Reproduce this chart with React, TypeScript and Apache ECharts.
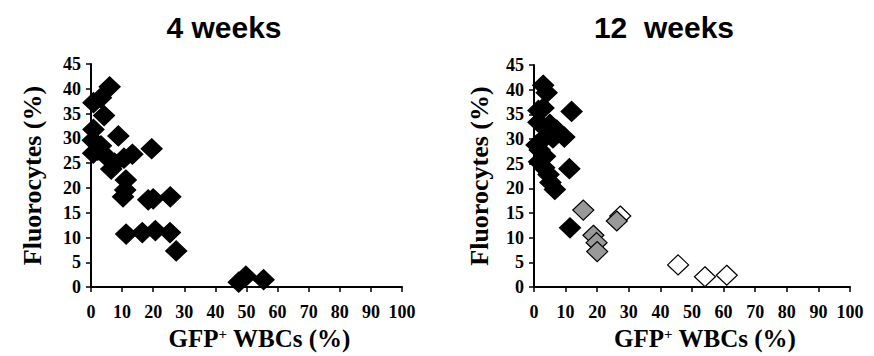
import React, { useEffect, useRef } from "react";
import * as echarts from "echarts";

// 4 weeks panel: [GFP+ WBCs %, Fluorocytes %]
const week4Points: number[][] = [
  [6.0, 40.4], [0.8, 37.2], [3.2, 38.2], [4.2, 34.6], [0.8, 31.8], [8.8, 30.5],
  [0.6, 29.6], [3.2, 28.5], [19.5, 27.9], [0.7, 27.0], [4.5, 26.6], [2.2, 27.6],
  [13.3, 26.8], [10.6, 26.0], [7.6, 25.0], [6.5, 23.8], [11.2, 21.6], [11.0, 19.6],
  [10.3, 18.2], [18.4, 17.6], [20.0, 17.8], [25.5, 18.2], [11.3, 10.7], [16.5, 11.0],
  [20.7, 11.4], [25.4, 11.0], [27.4, 7.3], [47.5, 1.0], [49.8, 2.2], [55.5, 1.5],
];

// 12 weeks panel, three groups (black, gray, white)
const week12Black: number[][] = [
  [2.9, 40.9], [4.0, 39.4], [1.4, 35.8], [3.0, 36.3], [11.9, 35.6], [1.4, 33.4],
  [5.0, 33.0], [7.2, 31.8], [9.6, 30.4], [0.8, 28.8], [2.9, 30.0], [6.0, 30.2],
  [1.8, 27.8], [3.5, 26.5], [1.6, 25.4], [11.2, 24.0], [3.2, 24.2], [4.6, 22.8],
  [5.2, 21.2], [6.6, 19.8], [11.4, 12.0],
];
const week12Gray: number[][] = [
  [15.6, 15.6], [26.2, 13.4], [18.8, 10.5], [19.8, 9.0], [20.0, 7.2],
];
const week12White: number[][] = [
  [27.3, 14.4], [45.6, 4.5], [54.1, 2.1], [61.0, 2.4],
];

const titles = ["4 weeks", "12  weeks"];
const xName = "GFP{sup|+} WBCs (%)";
const yName = "Fluorocytes (%)";

const SERIF = "'Liberation Serif', 'Times New Roman', serif";
const SANS = "'Liberation Sans', Arial, sans-serif";

export default function App() {
  const ref = useRef<HTMLDivElement>(null);
  useEffect(() => {
    if (!ref.current) return;
    const chart = echarts.init(ref.current, undefined, { renderer: "svg" });
    const axisLine = { show: true, lineStyle: { color: "#000", width: 2 } };
    const xAxisBase = (gridIndex: number) => ({
      type: "value" as const,
      gridIndex,
      min: 0,
      max: 100,
      interval: 10,
      axisLine,
      axisTick: { show: true, length: 5, lineStyle: { color: "#000", width: 1.5 } },
      splitLine: { show: false },
      axisLabel: {
        margin: 16,
        color: "#000",
        fontFamily: SERIF,
        fontWeight: "bold",
        fontSize: 18,
      },
      name: xName,
      nameLocation: "middle" as const,
      nameGap: 20,
      nameTextStyle: {
        color: "#000",
        fontFamily: SERIF,
        fontWeight: "bold",
        fontSize: 25,
        padding: [0, 0, 0, 26],
        rich: {
          sup: {
            fontFamily: SERIF,
            fontWeight: "bold",
            fontSize: 15,
            verticalAlign: "top",
            lineHeight: 13,
            color: "#000",
          },
        },
      },
    });
    const yAxisBase = (gridIndex: number, gap: number) => ({
      type: "value" as const,
      gridIndex,
      min: 0,
      max: 45,
      interval: 5,
      axisLine,
      axisTick: { show: true, length: 5, lineStyle: { color: "#000", width: 1.5 } },
      splitLine: { show: false },
      axisLabel: {
        margin: 10,
        color: "#000",
        fontFamily: SERIF,
        fontWeight: "bold",
        fontSize: 18,
      },
      name: yName,
      nameLocation: "middle" as const,
      nameGap: gap,
      nameTextStyle: {
        color: "#000",
        fontFamily: SERIF,
        fontWeight: "bold",
        fontSize: 26,
      },
    });
    const diamond = (
      name: string,
      data: number[][],
      idx: number,
      fill: string
    ) => ({
      name,
      type: "scatter" as const,
      xAxisIndex: idx,
      yAxisIndex: idx,
      data,
      symbol: "diamond",
      symbolSize: [21, 20],
      itemStyle: { color: fill, borderColor: "#000", borderWidth: 1.2, opacity: 1 },
      emphasis: { disabled: true },
    });
    chart.setOption({
      animation: false,
      backgroundColor: "#fff",
      title: [
        {
          text: titles[0],
          left: 219,
          top: 7,
          textAlign: "center",
          textStyle: { fontFamily: SANS, fontWeight: "bold", fontSize: 30, color: "#000" },
        },
        {
          text: titles[1],
          left: 659,
          top: 7,
          textAlign: "center",
          textStyle: { fontFamily: SANS, fontWeight: "bold", fontSize: 30, color: "#000" },
        },
      ],
      grid: [
        { left: 91, top: 64, width: 311, height: 224 },
        { left: 534, top: 65, width: 316, height: 223 },
      ],
      xAxis: [xAxisBase(0), xAxisBase(1)],
      yAxis: [yAxisBase(0, 46), yAxisBase(1, 42)],
      series: [
        diamond("4 weeks", week4Points, 0, "#000"),
        diamond("12 weeks white", week12White, 1, "#fff"),
        diamond("12 weeks gray", week12Gray, 1, "#999"),
        diamond("12 weeks black", week12Black, 1, "#000"),
      ],
    });
    return () => chart.dispose();
  }, []);
  return (
    <div
      ref={ref}
      style={{ position: "absolute", left: 0, top: 0, width: 874, height: 356 }}
    />
  );
}
